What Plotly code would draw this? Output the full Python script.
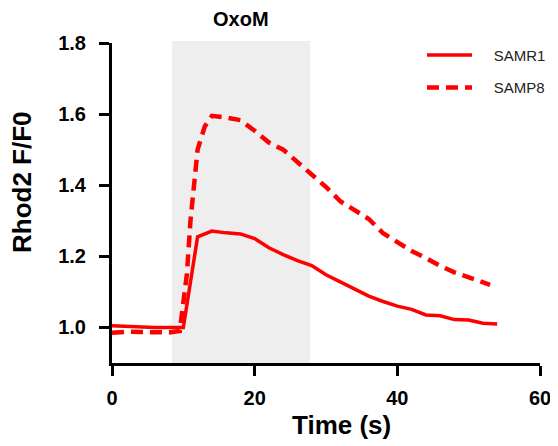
import plotly.graph_objects as go

# Data
t_samr1 = [0, 2, 4, 6, 8, 10, 12, 14, 16, 18, 20, 22, 24, 26, 28, 30, 32, 34, 36, 38, 40, 42, 44, 46, 48, 50, 52, 54]
samr1 = [1.005, 1.003, 1.0, 1.0, 1.0, 1.0, 1.255, 1.271, 1.266, 1.263, 1.25, 1.224, 1.205, 1.188, 1.174, 1.148,
         1.128, 1.108, 1.088, 1.073, 1.060, 1.051, 1.035, 1.033, 1.022, 1.021, 1.012, 1.010]

t_samp8 = [0, 2, 4, 6, 8, 9.5, 10.5, 11, 11.6, 12, 13, 14, 16, 18, 20, 22, 24, 26, 28, 30, 32, 34, 36, 38,
           40, 42, 44, 46, 48, 50, 52, 53]
samp8 = [0.985, 0.988, 0.987, 0.988, 0.986, 0.99, 1.15, 1.30, 1.44, 1.50, 1.565, 1.595, 1.59, 1.583, 1.553,
         1.52, 1.50, 1.465, 1.428, 1.395, 1.355, 1.33, 1.305, 1.265, 1.24, 1.215, 1.195, 1.173, 1.155, 1.14,
         1.127, 1.12]

stim_window = [8.4, 27.8]
stim_label = "OxoM"
x_ticks = [0, 20, 40, 60]
y_ticks = [1.0, 1.2, 1.4, 1.6, 1.8]

FONT = "Arial, Liberation Sans, sans-serif"
RED = "#ff0000"
PAD = "&nbsp;&nbsp;&nbsp;&nbsp;"

fig = go.Figure()
fig.add_trace(go.Scatter(x=t_samr1, y=samr1, mode="lines", name=PAD + "SAMR1",
                         line=dict(color=RED, width=3.5), legendgroup="a"))
fig.add_trace(go.Scatter(x=t_samp8, y=samp8, mode="lines", name=PAD + "SAMP8",
                         line=dict(color=RED, width=4.5, dash="12px,7px"), legendgroup="b"))

fig.add_shape(type="rect", xref="x", yref="paper", x0=stim_window[0], x1=stim_window[1], y0=0, y1=1.006,
              fillcolor="#eeeeee", line_width=0, layer="below")

fig.add_annotation(x=sum(stim_window) / 2, y=(363 - 19) / 320, xref="x", yref="paper",
                   text="<b>" + stim_label + "</b>", showarrow=False, yanchor="middle",
                   font=dict(family=FONT, size=20, color="black"))

fig.add_annotation(x=(341 - 112) / 428, y=(363 - 425) / 320, xref="paper", yref="paper",
                   text="<b>Time (s)</b>", showarrow=False, yanchor="middle",
                   font=dict(family=FONT, size=26, color="black"))
fig.add_annotation(x=(22 - 112) / 428, y=(363 - 182) / 320, xref="paper", yref="paper",
                   text="<b>Rhod2 F/F0</b>", showarrow=False, textangle=-90, xanchor="center", yanchor="middle",
                   font=dict(family=FONT, size=26, color="black"))

axis_common = dict(showline=True, linecolor="black", linewidth=3, ticks="outside", ticklen=10, tickwidth=3,
                   tickcolor="black", showgrid=False, zeroline=False, automargin=False,
                   tickfont=dict(family=FONT, size=20, color="black", weight="bold"))

fig.update_xaxes(range=[0, 60], tickvals=x_ticks, ticklabelstandoff=5, **axis_common)
fig.update_yaxes(range=[0.9, 1.8], tickvals=y_ticks, tickformat=".1f", ticklabelstandoff=9, **axis_common)

# the page body has an 8px margin, so margins are offset by 8px; the figure is a bit wider than
# the window so that the legend never forces the plot area to shrink
fig.update_layout(
    width=590, height=446,
    margin=dict(l=104, r=58, t=35, b=91),
    plot_bgcolor="white", paper_bgcolor="white",
    showlegend=True,
    legend=dict(x=(422 - 112) / 428, y=1.013, xanchor="left", yanchor="top",
                font=dict(family=FONT, size=15, color="#222222"),
                bgcolor="rgba(0,0,0,0)", tracegroupgap=10, itemwidth=45),
    font=dict(family=FONT),
)

fig.write_html("out.html")
